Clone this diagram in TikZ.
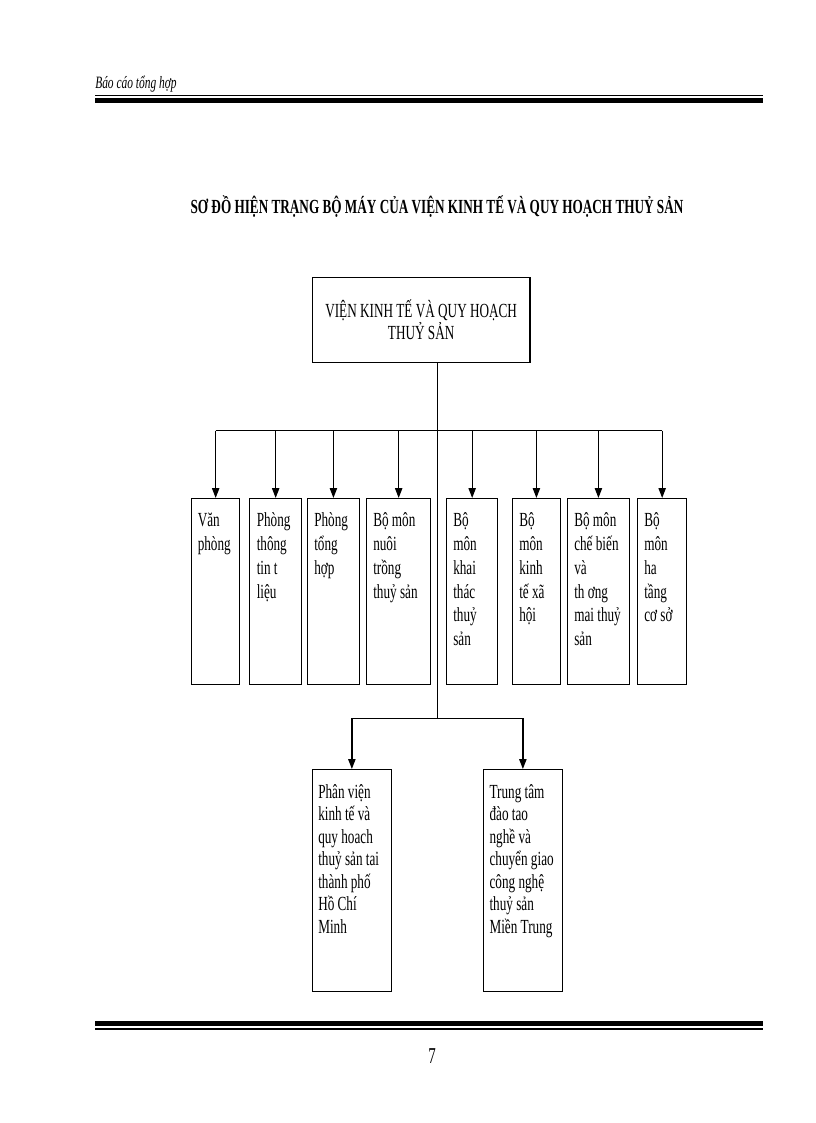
\documentclass[tikz,border=0pt]{standalone}
\usepackage{fontspec}
\setmainfont{Liberation Serif}[FakeStretch=0.66]
\usetikzlibrary{arrows.meta,calc}
\newcommand\celltext[2]{\parbox[t]{80pt}{\fontsize{15}{#1}\selectfont\raggedright\strut #2}}
\begin{document}
\begin{tikzpicture}[x=0.75pt,y=-0.75pt,
  sbox/.style 2 args={draw=black, line width=1pt, anchor=north west, inner sep=0pt,
     minimum width=#1*0.75pt, minimum height=#2*0.75pt},
  ctext/.style={anchor=north west, inner sep=0pt},
  conn/.style={line width=1pt, draw=black},
  arr/.style={conn, -{Triangle[length=7.5pt,width=5.5pt]}},
  rulebar/.style={fill=black}]
\fill[white] (0,0) rectangle (816,1123);
\useasboundingbox (0,0) rectangle (816,1123);

% header
\node[anchor=base west, inner sep=0pt, font=\itshape\fontsize{13}{15}\selectfont] (hdr) at (95,89) {Báo cáo tổng hợp};
\fill[rulebar] (95,95.2) rectangle (763,96.4);
\fill[rulebar] (95,98.3) rectangle (763,103.3);

% title
\node[anchor=base, inner sep=0pt, font=\bfseries\fontsize{15}{18}\selectfont] (title) at (437,213.5)
  {SƠ ĐỒ HIỆN TRẠNG BỘ MÁY CỦA VIỆN KINH TẾ VÀ QUY HOẠCH THUỶ SẢN};

% top box
\node[sbox={217.6}{84.7}, align=center, font=\fontsize{15}{16.3}\selectfont] (top) at (311.7,277)
  {VIỆN KINH TẾ VÀ QUY HOẠCH\\THUỶ SẢN};

% second row boxes
\node[sbox={48}{186}] (b1) at (191,498) {};
\node[sbox={52}{186}] (b2) at (249,498) {};
\node[sbox={51.5}{186}] (b3) at (307,498) {};
\node[sbox={64}{186}] (b4) at (366,498) {};
\node[sbox={51}{186}] (b5) at (446,498) {};
\node[sbox={47.5}{186}] (b6) at (512,498) {};
\node[sbox={61.5}{186}] (b7) at (567,498) {};
\node[sbox={49}{186}] (b8) at (637,498) {};

\node[ctext] (t1) at ($(b1.north west)+(6.5,12.1)$) {\celltext{17.8pt}{Văn\\phòng}};
\node[ctext] (t2) at ($(b2.north west)+(7.5,12.1)$) {\celltext{17.8pt}{Phòng\\thông\\tin t\\liệu}};
\node[ctext] (t3) at ($(b3.north west)+(7,12.1)$) {\celltext{17.8pt}{Phòng\\tổng\\hợp}};
\node[ctext] (t4) at ($(b4.north west)+(7,12.1)$) {\celltext{17.8pt}{Bộ môn\\nuôi\\trồng\\thuỷ sản}};
\node[ctext] (t5) at ($(b5.north west)+(7,12.1)$) {\celltext{17.8pt}{Bộ\\môn\\khai\\thác\\thuỷ\\sản}};
\node[ctext] (t6) at ($(b6.north west)+(7,12.1)$) {\celltext{17.8pt}{Bộ\\môn\\kinh\\tế xã\\hội}};
\node[ctext] (t7) at ($(b7.north west)+(7,12.1)$) {\celltext{17.8pt}{Bộ môn\\chế biến\\và\\th ơng\\mai thuỷ\\sản}};
\node[ctext] (t8) at ($(b8.north west)+(7,12.1)$) {\celltext{17.8pt}{Bộ\\môn\\ha\\tầng\\cơ sở}};

% bottom boxes
\node[sbox={79}{221.7}] (pa) at (311.7,769) {};
\node[sbox={79}{221.7}] (pb) at (482.7,769) {};
\node[ctext] (ta) at ($(pa.north west)+(6.3,13.2)$) {\celltext{16.9pt}{Phân viện\\kinh tế và\\quy hoach\\thuỷ sản tai\\thành phố\\Hồ Chí\\Minh}};
\node[ctext] (tb) at ($(pb.north west)+(6.6,13.2)$) {\celltext{16.9pt}{Trung tâm\\đào tao\\nghề và\\chuyển giao\\công nghệ\\thuỷ sản\\Miền Trung}};

% connectors
\coordinate (j1) at (437.7,430.7);
\coordinate (j2) at (437.7,718.3);
\draw[conn] (top.south -| j1) -- (j2);
\draw[conn] (b1.north |- j1) -- (b8.north |- j1);
\foreach \b in {b1,b2,b3,b4,b5,b6,b7,b8}
  \draw[arr] (\b.north |- j1) -- (\b.north);
\draw[conn] (pa.north |- j2) -- (pb.north |- j2);
\draw[arr] (pa.north |- j2) -- (pa.north);
\draw[arr] (pb.north |- j2) -- (pb.north);

% footer
\fill[rulebar] (95,1020.7) rectangle (763,1026);
\fill[rulebar] (95,1028.3) rectangle (763,1029.5);
\node[anchor=base, inner sep=0pt, font=\fontsize{17}{20}\selectfont] (pg) at (432,1063) {7};
\end{tikzpicture}
\end{document}
